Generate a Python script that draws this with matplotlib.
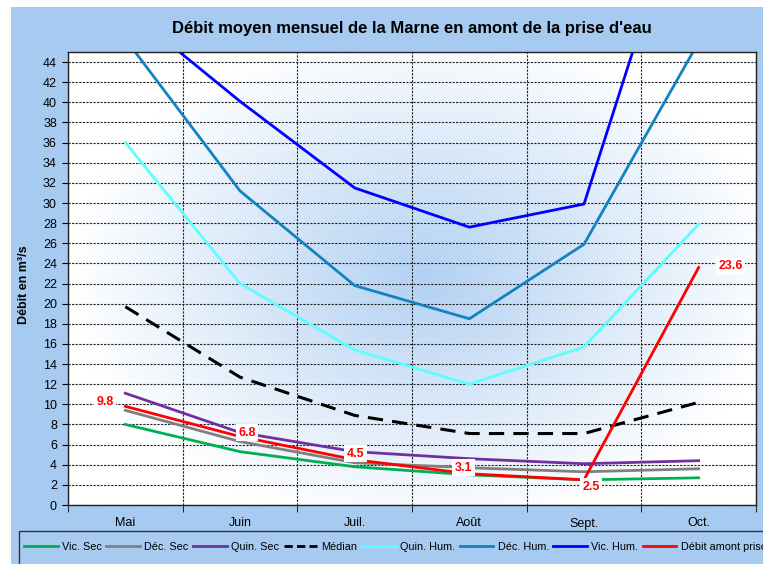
import numpy as np
import matplotlib
matplotlib.use("Agg")
import matplotlib.pyplot as plt
from matplotlib.patches import Rectangle
from matplotlib.lines import Line2D

plt.rcParams['font.family'] = ['Liberation Sans', 'DejaVu Sans']

# data
mois = ["Mai", "Juin", "Juil.", "Août", "Sept.", "Oct."]
vic_sec = [8.0, 5.3, 3.8, 3.0, 2.5, 2.7]
dec_sec = [9.4, 6.3, 4.2, 3.7, 3.3, 3.6]
quin_sec = [11.1, 7.2, 5.3, 4.6, 4.1, 4.4]
median = [19.7, 12.7, 8.9, 7.1, 7.1, 10.2]
quin_hum = [36.0, 22.0, 15.4, 12.0, 15.7, 27.9]
dec_hum = [46.3, 31.2, 21.8, 18.5, 25.9, 46.0]
vic_hum = [49.4, 40.1, 31.5, 27.6, 29.9, 65.5]
debit = [9.8, 6.8, 4.5, 3.1, 2.5, 23.6]

labels = ["Vic. Sec", "Déc. Sec", "Quin. Sec", "Médian", "Quin. Hum.",
          "Déc. Hum.", "Vic. Hum.", "Débit amont prise d'eau"]
couleurs = ["#00b050", "#808080", "#7030a0", "black", "#5cffff",
            "#1282c2", "#0000ff", "#ff0000"]
series = [vic_sec, dec_sec, quin_sec, median, quin_hum, dec_hum, vic_hum, debit]

fig = plt.figure(figsize=(7.63, 5.64), dpi=100, facecolor="white")
bg = "#a6caf0"
fig.patches.append(Rectangle((11 / 763, 0), 1, 1 - 7 / 564, transform=fig.transFigure,
                             facecolor=bg, edgecolor="none", zorder=-10))

ax = fig.add_axes([68 / 763, 59 / 564, 688 / 763, 453 / 564])
ax.set_facecolor("white")

# radial gradient behind the lines
gx, gy = np.meshgrid(np.linspace(0, 1, 300), np.linspace(0, 1, 300))
t = np.sqrt(((gx - 0.52) / 0.52) ** 2 + ((gy - 0.5) / 0.55) ** 2)
t = np.clip(t, 0, 1)
c0 = np.array([0.70, 0.82, 0.95])
img = c0[None, None, :] * (1 - t[..., None]) + np.ones(3)[None, None, :] * t[..., None]
ax.imshow(img, extent=[0, 1, 0, 1], transform=ax.transAxes, aspect="auto",
          origin="lower", zorder=0, interpolation="bilinear")

x = np.arange(len(mois))
for i, (s, lab, c) in enumerate(zip(series, labels, couleurs)):
    if lab == "Médian":
        ax.plot(x, s, color=c, lw=2.2, ls=(0, (5, 3)), label=lab, zorder=3 + i)
    else:
        ax.plot(x, s, color=c, lw=2.0, label=lab, zorder=3 + i)

# data labels of the red series
offs = [(-20, 4), (7, 4), (1, 6), (-6, 6), (7, -7), (32, 1)]
for xi, v, (dx, dy) in zip(x, debit, offs):
    ax.annotate(f"{v:.1f}", xy=(xi, v), xytext=(dx, dy), textcoords="offset pixels",
                ha="center", va="center", color="#ff0000", fontsize=9, fontweight="bold",
                bbox=dict(facecolor="white", edgecolor="none", pad=1.8), zorder=20)

ax.set_xlim(-0.5, 5.5)
ax.set_ylim(0, 45)
ax.set_yticks(np.arange(0, 45, 2))
ax.set_xticks(x)
ax.set_xticklabels(mois)
ax.set_xticks(np.arange(-0.5, 6, 1), minor=True)
ax.tick_params(axis="x", which="major", length=0, pad=9, labelsize=9)
ax.tick_params(axis="x", which="minor", length=5, direction="out")
ax.tick_params(axis="y", length=4, direction="out", pad=4, labelsize=9)
ax.grid(axis="y", which="major", color="#222222", ls=(0, (2, 1.2)), lw=0.8, zorder=1)
ax.grid(axis="x", which="minor", color="#222222", ls=(0, (2, 1.2)), lw=0.8, zorder=1)
ax.set_axisbelow(False)
for sp in ax.spines.values():
    sp.set_color("#222222")
    sp.set_linewidth(1.0)
    sp.set_zorder(25)

fig.text(412 / 763, 1 - 29 / 564, "Débit moyen mensuel de la Marne en amont de la prise d'eau",
         ha="center", va="center", fontsize=12, fontweight="bold")
fig.text(24 / 763, 1 - 285 / 564, "Débit en m³/s", rotation=90, ha="center",
         va="center", fontsize=9, fontweight="bold")

# legend box, cut by the figure edge like in the original
fig.patches.append(Rectangle((19 / 763, -0.1), 1, 0.1 + 33 / 564, transform=fig.transFigure,
                             facecolor=bg, edgecolor="#333333", lw=1.0, zorder=-5))
handles = []
for lab, c in zip(labels, couleurs):
    ls = (0, (3, 1.5)) if lab == "Médian" else "-"
    handles.append(Line2D([], [], color=c, lw=2.0, ls=ls))
fig.legend(handles, labels, loc="center left", bbox_to_anchor=(24 / 763, 1 - 547 / 564),
           ncol=8, frameon=False, fontsize=7.8, handlelength=3.1, handletextpad=0.4,
           columnspacing=0.42, borderaxespad=0, borderpad=0)

fig.savefig("out.png", dpi=100, facecolor="white")
